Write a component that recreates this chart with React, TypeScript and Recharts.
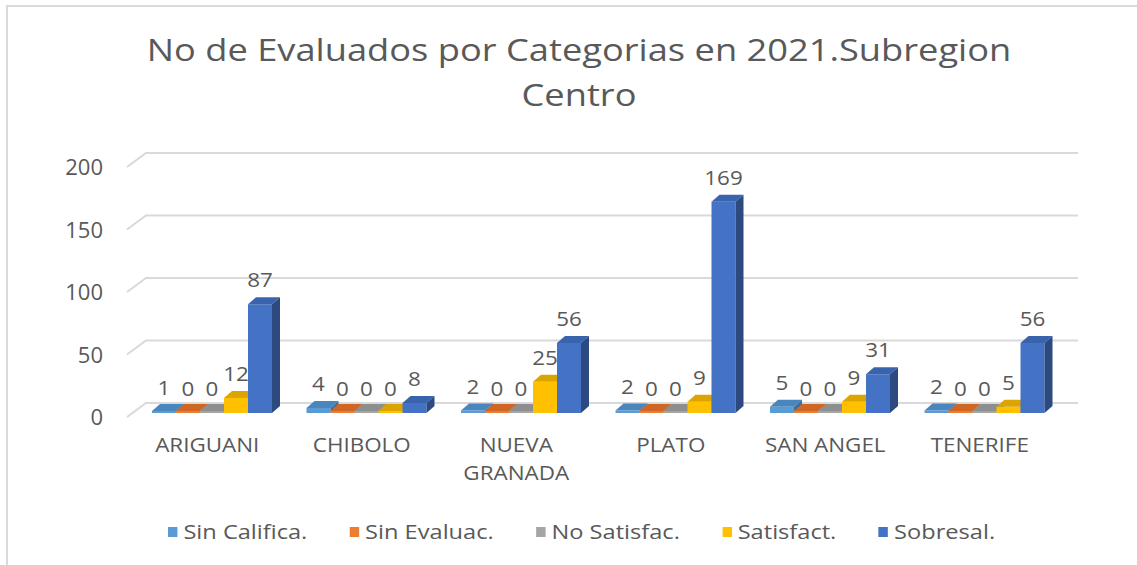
import React from "react"
import {
  BarChart,
  Bar,
  XAxis,
  YAxis,
  CartesianGrid,
  LabelList,
} from "recharts"

const categories = ["ARIGUANI", "CHIBOLO", "NUEVA GRANADA", "PLATO", "SAN ANGEL", "TENERIFE"]
const sinCalifica = [1, 4, 2, 2, 5, 2]
const sinEvaluac = [0, 0, 0, 0, 0, 0]
const noSatisfac = [0, 0, 0, 0, 0, 0]
const satisfact = [12, 0, 25, 9, 9, 5]
const sobresal = [87, 8, 56, 169, 31, 56]
const yTicks = [0, 50, 100, 150, 200]

const series = [
  { key: "sinCalifica", name: "Sin Califica.", color: "#5B9BD5", top: "#4a86be", side: "#3a6f9f" },
  { key: "sinEvaluac", name: "Sin Evaluac.", color: "#ED7D31", top: "#cf6624", side: "#a8521c" },
  { key: "noSatisfac", name: "No Satisfac.", color: "#A5A5A5", top: "#8e8e8e", side: "#747474" },
  { key: "satisfact", name: "Satisfact.", color: "#FFC000", top: "#dca400", side: "#b88900" },
  { key: "sobresal", name: "Sobresal.", color: "#4472C4", top: "#3a63ad", side: "#2c4a80" },
]

const data = categories.map((name, i) => ({
  name,
  sinCalifica: sinCalifica[i],
  sinEvaluac: sinEvaluac[i],
  noSatisfac: noSatisfac[i],
  satisfact: satisfact[i],
  sobresal: sobresal[i],
}))

const FONT = "'Open Sans', sans-serif"
const TEXT = "#595959"
const SHIFT = 5
const DX = 8
const DY = -7

// the source picture is a bit stretched sideways, so text gets scaled in x
const Stretched = ({ x, y, sx, size, anchor = "middle", children }: any) => (
  <text
    transform={`translate(${x},${y}) scale(${sx},1)`}
    textAnchor={anchor}
    fill={TEXT}
    fontSize={size}
    fontFamily={FONT}
  >
    {children}
  </text>
)

// fake 3d column: front face, top and right side
const make3DBar = (top: string, side: string) => (props: any) => {
  const { y, width, height, fill } = props
  const x = props.x + SHIFT
  const h = Math.max(height, 2)
  const yy = y + height - h
  const w = width
  return (
    <g>
      <rect x={x} y={yy} width={w} height={h} fill={fill} />
      <polygon
        points={`${x},${yy} ${x + DX},${yy + DY} ${x + w + DX},${yy + DY} ${x + w},${yy}`}
        fill={top}
      />
      <polygon
        points={`${x + w},${yy} ${x + w + DX},${yy + DY} ${x + w + DX},${yy + h + DY} ${x + w},${yy + h}`}
        fill={side}
      />
    </g>
  )
}

const renderValue = (props: any) => {
  const { x, y, width, value } = props
  return (
    <Stretched x={x + SHIFT + width / 2} y={y - 17} sx={1.12} size={20}>
      {value}
    </Stretched>
  )
}

const gridLine = (props: any) => {
  const { x1, x2, y1 } = props
  return (
    <path
      key={`g-${y1}`}
      d={`M${x1 - 3},${y1 + 4} L${x1 + 16},${y1 - 10} L${x2 + 21},${y1 - 10}`}
      stroke="#d9d9d9"
      strokeWidth={2}
      fill="none"
    />
  )
}

const YTick = ({ y, payload }: any) => (
  <Stretched x={103} y={y + 12} sx={1.05} size={21} anchor="end">
    {payload.value}
  </Stretched>
)

const XTick = ({ x, payload }: any) => {
  const label: string = payload.value
  const lines = label.length > 10 ? label.split(" ") : [label]
  return (
    <g>
      {lines.map((l, i) => (
        <Stretched key={i} x={x} y={452 + i * 28} sx={1.15} size={19.5}>
          {l}
        </Stretched>
      ))}
    </g>
  )
}

export default function App() {
  return (
    <div
      style={{
        position: "absolute",
        left: 0,
        top: 0,
        width: 1137,
        height: 565,
        background: "#fff",
        overflow: "hidden",
        fontFamily: FONT,
      }}
    >
      {/* chart frame */}
      <div
        style={{
          position: "absolute",
          left: 6,
          top: 5,
          width: 1140,
          height: 570,
          borderLeft: "2px solid #d9d9d9",
          borderTop: "2px solid #d9d9d9",
        }}
      />
      <svg width={1137} height={120} style={{ position: "absolute", left: 0, top: 0 }}>
        <Stretched x={579} y={61} sx={1.17} size={31}>
          No de Evaluados por Categorias en 2021.Subregion
        </Stretched>
        <Stretched x={579} y={106} sx={1.17} size={31}>
          Centro
        </Stretched>
      </svg>
      <div style={{ position: "absolute", left: 0, top: 0 }}>
        <BarChart
          width={1137}
          height={565}
          data={data}
          margin={{ top: 163, right: 80, bottom: 122, left: 100 }}
          barCategoryGap={17}
          barGap={0}
        >
          <CartesianGrid horizontal={gridLine} vertical={false} />
          <XAxis
            dataKey="name"
            axisLine={false}
            tickLine={false}
            tick={<XTick />}
            interval={0}
          />
          <YAxis
            width={30}
            domain={[0, 200]}
            ticks={yTicks}
            axisLine={false}
            tickLine={false}
            tick={<YTick />}
          />
          {series.map((s) => (
            <Bar
              key={s.key}
              dataKey={s.key}
              name={s.name}
              fill={s.color}
              shape={make3DBar(s.top, s.side)}
              isAnimationActive={false}
            >
              <LabelList dataKey={s.key} content={renderValue} />
            </Bar>
          ))}
        </BarChart>
      </div>
      <div
        style={{
          position: "absolute",
          left: 0,
          top: 518,
          width: 1163,
          display: "flex",
          justifyContent: "center",
          gap: 36,
          color: TEXT,
          fontSize: 20,
          transform: "scaleX(1.18)",
          transformOrigin: "581px 0",
        }}
      >
        {series.map((s) => (
          <div key={s.key} style={{ display: "flex", alignItems: "center" }}>
            <span
              style={{ display: "inline-block", width: 8, height: 10, background: s.color, marginRight: 5 }}
            />
            {s.name}
          </div>
        ))}
      </div>
    </div>
  )
}
